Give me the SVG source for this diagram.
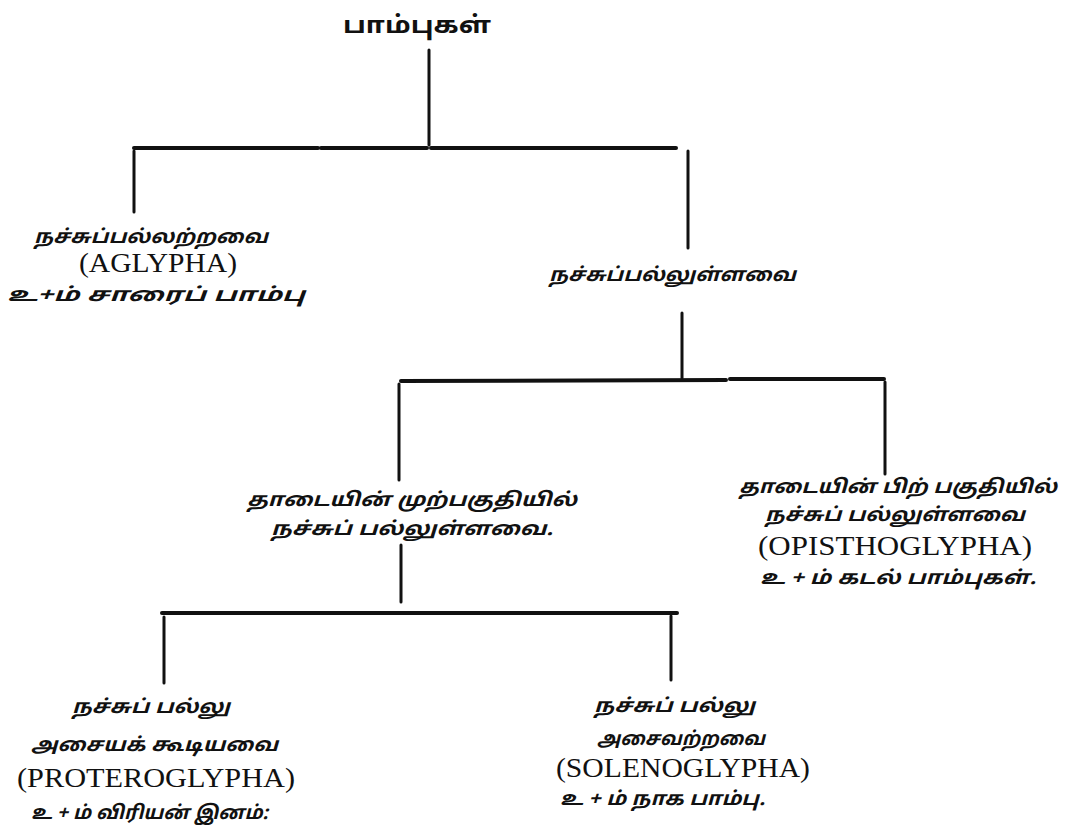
<svg xmlns="http://www.w3.org/2000/svg" width="1071" height="827" viewBox="0 0 1071 827">
<style>
.ta{font-family:"Noto Sans Tamil","Lohit Tamil","Latha","Noto Sans","DejaVu Sans",sans-serif;font-size:19px;font-weight:bold;font-style:italic;fill:#111}
.tt{font-family:"Noto Sans Tamil","Lohit Tamil","Latha","Noto Sans","DejaVu Sans",sans-serif;font-size:24px;font-weight:bold;fill:#111}
.en{font-family:"Liberation Serif","Times New Roman",serif;font-size:28px;fill:#111}
.c line{stroke:#111;stroke-width:3;stroke-linecap:round}
.c .h{stroke-width:4}
</style>
<rect width="1071" height="827" fill="#fff"/>
<g id="connectors" class="c">
<line x1="429" y1="50" x2="429" y2="145"/>
<line class="h" x1="134" y1="148" x2="318" y2="148"/>
<line class="h" x1="321" y1="148" x2="427" y2="148"/>
<line class="h" x1="431" y1="148" x2="676" y2="148"/>
<line x1="134" y1="151" x2="134" y2="212"/>
<line x1="688" y1="151" x2="688" y2="248"/>
<line x1="682" y1="313" x2="682" y2="378"/>
<line class="h" x1="401" y1="381" x2="726" y2="380"/>
<line class="h" x1="730" y1="379" x2="884" y2="379"/>
<line x1="399" y1="384" x2="399" y2="480"/>
<line x1="885" y1="382" x2="885" y2="474"/>
<line x1="401" y1="545" x2="401" y2="602"/>
<line class="h" x1="162" y1="613" x2="677" y2="613"/>
<line x1="164" y1="617" x2="164" y2="683"/>
<line x1="671" y1="616" x2="671" y2="680"/>
</g>
<g id="root">
<text class="tt" x="343" y="33" textLength="148" lengthAdjust="spacingAndGlyphs">பாம்புகள்</text>
</g>
<g id="aglypha">
<text class="ta" x="34" y="243" textLength="234" lengthAdjust="spacingAndGlyphs">நச்சுப்பல்லற்றவை</text>
<text class="en" x="79" y="272" textLength="158" lengthAdjust="spacingAndGlyphs">(AGLYPHA)</text>
<text class="ta" x="7" y="301" textLength="298" lengthAdjust="spacingAndGlyphs">உ+ம்  சாரைப் பாம்பு</text>
</g>
<g id="venomous">
<text class="ta" x="549" y="281" textLength="247" lengthAdjust="spacingAndGlyphs">நச்சுப்பல்லுள்ளவை</text>
</g>
<g id="front-fang">
<text class="ta" x="247" y="506" textLength="330" lengthAdjust="spacingAndGlyphs">தாடையின்  முற்பகுதியில்</text>
<text class="ta" x="271" y="535" textLength="282" lengthAdjust="spacingAndGlyphs">நச்சுப்  பல்லுள்ளவை.</text>
</g>
<g id="opisthoglypha">
<text class="ta" x="739" y="493" textLength="318" lengthAdjust="spacingAndGlyphs">தாடையின்  பிற்  பகுதியில்</text>
<text class="ta" x="765" y="521" textLength="260" lengthAdjust="spacingAndGlyphs">நச்சுப் பல்லுள்ளவை</text>
<text class="en" x="758" y="555" textLength="274" lengthAdjust="spacingAndGlyphs">(OPISTHOGLYPHA)</text>
<text class="ta" x="760" y="584" textLength="276" lengthAdjust="spacingAndGlyphs">உ + ம்  கடல்  பாம்புகள்.</text>
</g>
<g id="proteroglypha">
<text class="ta" x="72" y="713" textLength="158" lengthAdjust="spacingAndGlyphs">நச்சுப்  பல்லு</text>
<text class="ta" x="31" y="751" textLength="247" lengthAdjust="spacingAndGlyphs">அசையக்  கூடியவை</text>
<text class="en" x="17" y="787" textLength="278" lengthAdjust="spacingAndGlyphs">(PROTEROGLYPHA)</text>
<text class="ta" x="31" y="819" textLength="237" lengthAdjust="spacingAndGlyphs">உ + ம் விரியன்  இனம்:</text>
</g>
<g id="solenoglypha">
<text class="ta" x="594" y="712" textLength="161" lengthAdjust="spacingAndGlyphs">நச்சுப்  பல்லு</text>
<text class="ta" x="597" y="745" textLength="168" lengthAdjust="spacingAndGlyphs">அசைவற்றவை</text>
<text class="en" x="556" y="777" textLength="254" lengthAdjust="spacingAndGlyphs">(SOLENOGLYPHA)</text>
<text class="ta" x="560" y="805" textLength="205" lengthAdjust="spacingAndGlyphs">உ + ம்  நாக  பாம்பு.</text>
</g>
</svg>
